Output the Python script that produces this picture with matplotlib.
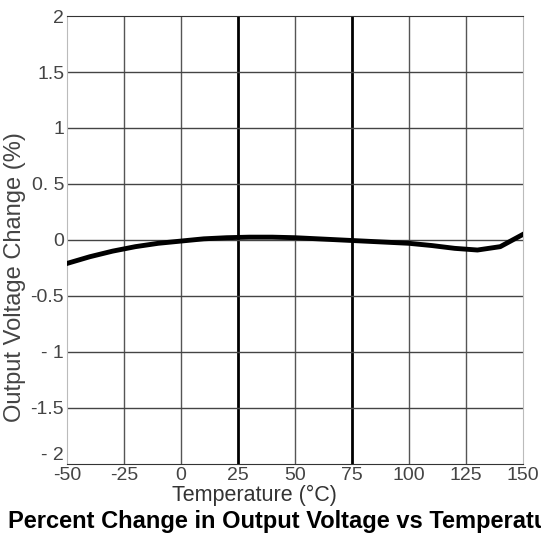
import numpy as np
import matplotlib.pyplot as plt

temps = [-50, -40, -30, -20, -10, 0, 10, 20, 30, 40, 50, 60, 70, 80, 90, 100, 110, 120, 130, 140, 150]
change = [-0.21, -0.15, -0.10, -0.06, -0.03, -0.01, 0.01, 0.02, 0.025, 0.025, 0.02, 0.01, 0.0,
          -0.01, -0.02, -0.03, -0.05, -0.075, -0.09, -0.06, 0.05]

xticks = [-50, -25, 0, 25, 50, 75, 100, 125, 150]
yticks = [2, 1.5, 1, 0.5, 0, -0.5, -1, -1.5, -2]
ytick_labels = ["2", "1.5", "1", "0. 5", "0", "-0.5", "- 1", "-1.5", "- 2"]

plt.rcParams['font.family'] = ['Liberation Sans', 'DejaVu Sans']
plt.rcParams['axes.unicode_minus'] = False

fig = plt.figure(figsize=(5.41, 5.35), dpi=100)
ax = fig.add_axes([0.1238, 0.133, 0.843, 0.837])

for x in xticks[1:-1]:
    if x in (25, 75):
        ax.axvline(x, color='black', lw=2.0, zorder=1)
    else:
        ax.axvline(x, color='#555555', lw=1.0, zorder=1)
for y in yticks[1:-1]:
    ax.axhline(y, color='#444444', lw=1.0, zorder=1)

ax.plot(temps, change, color='black', lw=3.5, zorder=3)

ax.set_xlim(-50, 150)
ax.set_ylim(-2, 2)
ax.set_xticks(xticks)
ax.set_yticks(yticks)
ax.set_yticklabels(ytick_labels)
ax.tick_params(length=0, labelsize=14, colors='#444444', pad=2)
# bottom y label sits a little higher in the original, clear of "-50"
ax.get_yticklabels()[-1].set_va('bottom')

ax.spines['left'].set_color('#bbbbbb')
ax.spines['right'].set_color('#bbbbbb')
ax.spines['top'].set_color('#333333')
ax.spines['bottom'].set_color('#333333')

ax.set_xlabel("Temperature (°C)", fontsize=15.5, color='#333333')
ax.xaxis.set_label_coords(0.41, -0.046, transform=ax.transAxes)
ax.xaxis.label.set_va('top')
ax.set_ylabel("Output Voltage Change (%)", fontsize=17, color='#444444')
ax.yaxis.set_label_coords(-0.09, 0.417, transform=ax.transAxes)

fig.text(0.015, 0.004, "Percent Change in Output Voltage vs Temperature",
         fontsize=17, fontweight='bold', ha='left', va='bottom')

fig.savefig('out.png', dpi=100)
